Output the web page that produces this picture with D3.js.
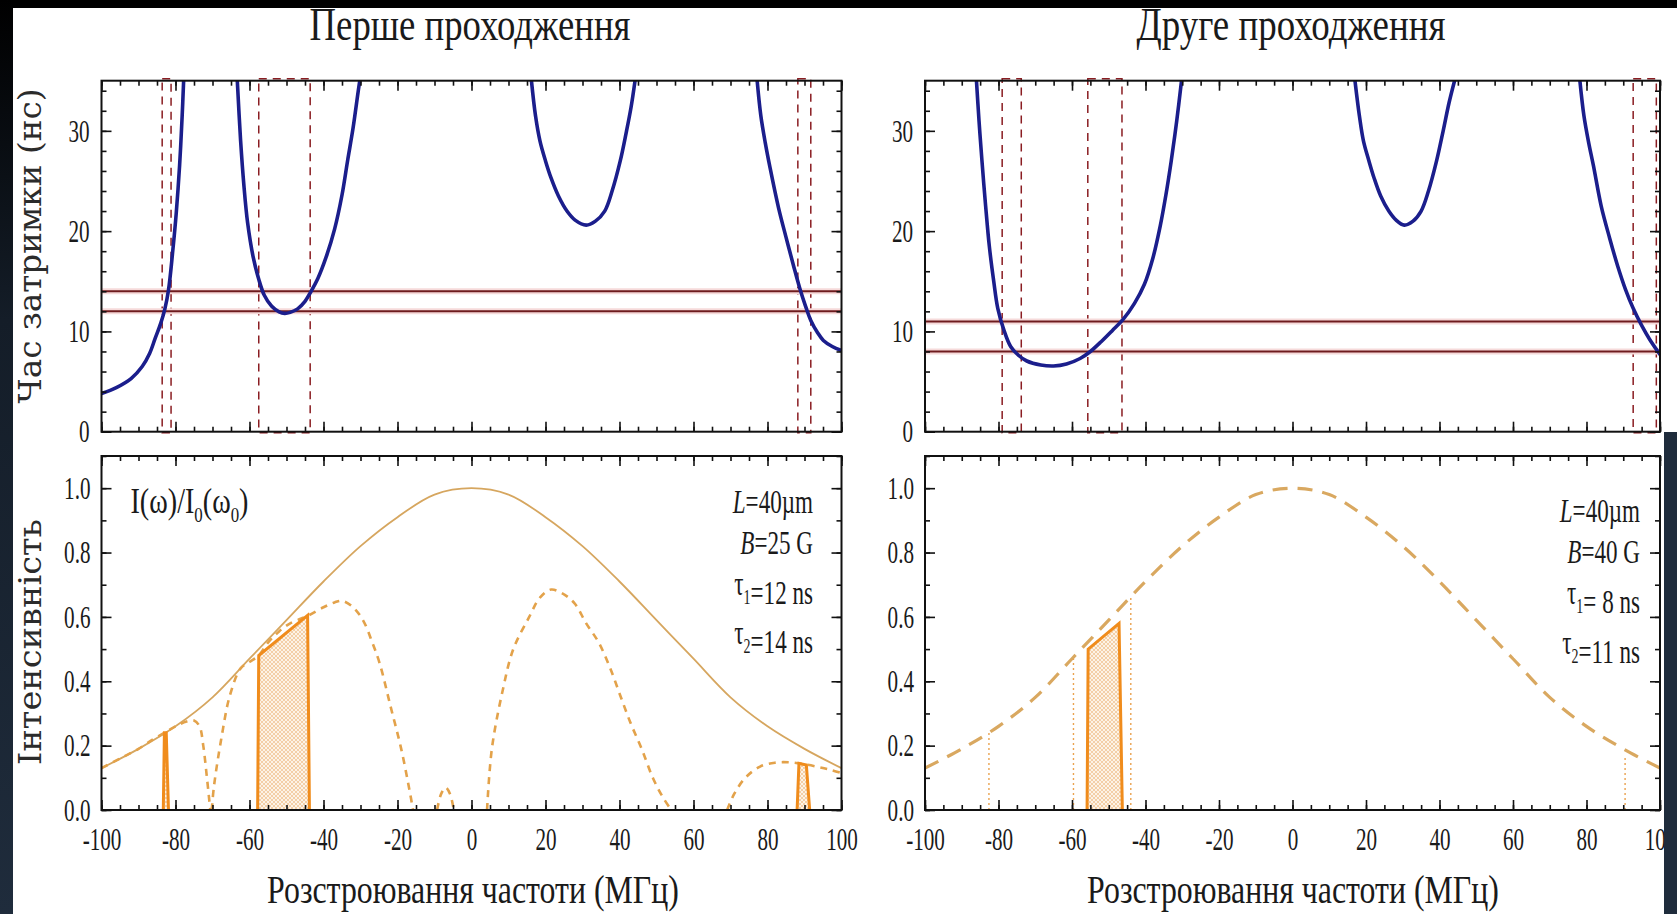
<!DOCTYPE html>
<html>
<head>
<meta charset="utf-8">
<script src="https://cdn.jsdelivr.net/npm/d3@7"></script>
<style>
  html, body { margin: 0; padding: 0; background: #fff; }
  svg { display: block; }
  text { font-family: "Liberation Serif", "Times New Roman", serif; fill: #1a1a1a; white-space: pre; }
</style>
</head>
<body>
<svg id="fig" width="1677" height="914"></svg>
<script>
// ---------------- data ----------------
const passTitles = ["Перше проходження", "Друге проходження"];
const xTitle = "Розстроювання частоти (МГц)";
const yTitles = ["Час затримки (нс)", "Інтенсивність"];

const xMajorTicks = [-100, -80, -60, -40, -20, 0, 20, 40, 60, 80, 100];
const delayTicks = [0, 10, 20, 30];
const intensityTicks = [0.0, 0.2, 0.4, 0.6, 0.8, 1.0];

const cellLength = "40µm";
const fieldB = ["25 G", "40 G"];
const tau1 = [12, 8];   // ns, lower delay threshold
const tau2 = [14, 11];  // ns, upper delay threshold

// group delay (ns) vs detuning (MHz), first pass
const delay1A = [[-100,3.8],[-96,4.4],[-92,5.3],[-89,6.5],[-87,7.8],[-85.5,9.3],[-84,10.8],[-82.9,12.2],[-81.9,14.1],[-80.8,17.8],[-79.8,21.8],[-78.9,26.5],[-78.2,31.5],[-77.8,35]];
const delay1B = [[-63.3,35],[-62.4,29],[-61.5,24.5],[-60.5,20.8],[-59,17.4],[-57.5,15.2],[-56,13.6],[-54,12.5],[-52,11.95],[-50.5,11.8],[-49,11.9],[-47,12.25],[-45,13.0],[-43.5,13.9],[-41.5,15.3],[-39.3,17.4],[-37,20.2],[-35,23.6],[-33.5,27],[-32,30.3],[-30.6,34],[-30.2,35]];
const delay1C = [[16.2,35],[17.3,31.5],[18.5,29],[20,27],[21.5,25.3],[23.5,23.5],[25.8,22.0],[28,21.1],[31,20.6],[33.5,21.0],[36,22.0],[38,24.0],[40.2,27],[41.8,29.8],[43.1,32.3],[44.2,35]];
const delay1D = [[77.2,35],[78.2,31.5],[79.4,28.8],[80.7,26.3],[83,22.3],[85,19.4],[87,16.6],[88.8,14.2],[90.3,12.5],[91.7,11.1],[93.5,9.9],[95.1,9.1],[97.5,8.5],[100,8.1]];

// group delay (ns) vs detuning (MHz), second pass
const delay2A = [[-86,35],[-85.3,31],[-84.5,27],[-83.5,22.5],[-82.5,18.5],[-81.3,15],[-80.2,12.3],[-78.5,10.1],[-76.7,8.5],[-74.5,7.6],[-72.3,7.05],[-68.5,6.65],[-65,6.55],[-61.5,6.75],[-57.8,7.3],[-55,8.0],[-52,9.0],[-49,10.1],[-46.1,11.2],[-43,12.8],[-40.3,14.7],[-38,17.3],[-36,20.5],[-34.5,23.5],[-33,27],[-31.5,31],[-30.2,35]];
const delay2B = [[17,35],[18.2,31.5],[19.3,29],[20.8,27],[22.2,25.3],[24,23.5],[26.2,22.0],[28.2,21.1],[30.4,20.6],[32.8,21.0],[35,22.0],[37,24.0],[39.2,27],[41,30],[42.6,32.8],[44.1,35]];
const delay2C = [[78.2,35],[79.3,31.5],[80.6,28.8],[81.9,26.5],[84,22.5],[86.3,19.3],[88.5,16.5],[90.6,14.2],[92.7,12.3],[95,10.6],[97.2,9.2],[100,7.7]];

// detuning windows (MHz) where the delay lies between tau1 and tau2
const windows1 = [[-83.6, -81.2], [-57.5, -43.6], [88.2, 91.7]];
const windows2 = [[-79, -73.8], [-55.7, -46.4], [92.7, 99]];

// input spectrum I0 (normalised), detuning -100..100 step 10
const envelopeX = [-100,-90,-80,-70,-60,-50,-40,-30,-20,-10,0,10,20,30,40,50,60,70,80,90,100];
const envelopeY = [0.13,0.19,0.26,0.35,0.47,0.59,0.71,0.82,0.91,0.98,1.0,0.98,0.91,0.82,0.71,0.59,0.47,0.35,0.26,0.19,0.13];

// transmitted spectrum after first pass, lobe by lobe
const lobe1 = [[-100,0.13],[-95,0.16],[-90,0.19],[-86,0.22],[-83,0.24],[-80,0.26],[-77,0.275],[-75,0.278],[-73.5,0.26],[-72.5,0.2],[-71.5,0.1],[-70.6,0]];
const lobe2 = [[-70.2,0],[-69.6,0.074],[-67.6,0.223],[-65.3,0.356],[-62.4,0.44],[-60,0.46],[-57.5,0.48],[-55,0.52],[-52,0.555],[-49,0.58],[-46,0.595],[-44,0.605],[-40,0.63],[-37,0.645],[-35,0.65],[-32,0.63],[-29.2,0.587],[-26.8,0.52],[-24.8,0.455],[-21.9,0.323],[-19,0.19],[-16.7,0.058],[-15.8,0]];
const lobe3 = [[-9.3,0],[-8.2,0.05],[-7,0.07],[-5.8,0.05],[-4.8,0]];
const lobe4 = [[4.2,0],[5.5,0.19],[8.4,0.37],[11.3,0.5],[15.6,0.6],[18.5,0.66],[21.5,0.685],[25,0.67],[28,0.64],[31,0.58],[34.4,0.52],[37.5,0.44],[40.2,0.356],[43,0.27],[46,0.19],[49,0.1],[51.7,0.04],[54,0]];
const lobe5 = [[69.1,0],[71,0.05],[74,0.1],[78,0.135],[82,0.147],[86,0.148],[90,0.142],[94,0.133],[97,0.125],[100,0.115]];

// selected (delayed) parts of the spectrum
const band1 = [
  [[-83.3,0],[-83.0,0.24],[-82.5,0.24],[-81.9,0]],
  [[-57.8,0],[-57.5,0.48],[-44.3,0.605],[-43.8,0]],
  [[88.0,0],[88.5,0.145],[90.5,0.14],[91.4,0]]
];
const band2 = [
  [[-55.9,0],[-55.6,0.5],[-47.2,0.58],[-46.3,0]]
];
// dotted guides in the second-pass spectrum: [detuning, height]
const guides2 = [[-82.6,0.24],[-59.6,0.47],[-44,0.66],[90.5,0.17]];

// ---------------- layout ----------------
const cols = [{x0: 101.5, x1: 841.5, title: 470, xt: 473}, {x0: 925, x1: 1660, title: 1291, xt: 1293}];
const rowDelay = {top: 80.7, bottom: 431.7};
const rowInt = {top: 456, bottom: 810};

const svg = d3.select("#fig");
const defs = svg.append("defs");

const grad = defs.append("linearGradient").attr("id", "edge").attr("x1", 0).attr("y1", 0).attr("x2", 0).attr("y2", 1);
grad.append("stop").attr("offset", "0").attr("stop-color", "#000");
grad.append("stop").attr("offset", "0.35").attr("stop-color", "#141d28");
grad.append("stop").attr("offset", "1").attr("stop-color", "#1f2c3c");

const pat = defs.append("pattern").attr("id", "hatch").attr("width", 4).attr("height", 4)
  .attr("patternUnits", "userSpaceOnUse");
pat.append("rect").attr("width", 4).attr("height", 4).attr("fill", "#fdf3e6");
pat.append("path").attr("d", "M0,0 L4,4 M4,0 L0,4").attr("stroke", "#efc08c").attr("stroke-width", 0.7);

svg.append("rect").attr("width", 1677).attr("height", 914).attr("fill", "#fff");

// text helper: horizontally scaled serif text
function label(parent, o) {
  const g = parent.append("g")
    .attr("transform", `translate(${o.x},${o.y})` + (o.rotate ? ` rotate(${o.rotate})` : ""));
  const t = g.append("text")
    .attr("text-anchor", o.anchor || "middle")
    .style("font-size", o.size + "px");
  if (o.family) t.style("font-family", o.family);
  if (o.weight) t.style("font-weight", o.weight);
  if (o.fill) t.style("fill", o.fill);
  if (o.build) o.build(t); else t.text(o.text);
  let s = o.scale || 1;
  if (o.width) s = o.width / t.node().getComputedTextLength();
  t.attr("transform", `scale(${s},1)`);
  return t;
}
function sub(t, main, s, size) {
  t.append("tspan").text(main);
  t.append("tspan").attr("dy", 9).style("font-size", size + "px").text(s);
  t.append("tspan").attr("dy", -9).text("");
}

const tickScale = 0.66;
const tickSize = 32;

function fixTickText(g, s) {
  g.selectAll(".tick text").each(function () {
    const t = d3.select(this);
    const x = +t.attr("x") || 0;
    t.attr("x", 0).attr("transform", `translate(${x},0) scale(${s},1)`)
      .style("font-size", tickSize + "px").style("font-family", '"Liberation Serif", serif').attr("fill", "#1a1a1a");
  });
}

const plainNumber = d => String(d);          // hyphen-minus, as in the original axis labels
const oneDecimal = d => d.toFixed(1);

function frame(g, x, y, yMajor, yMinor, yFmt, xLabels, yPad) {
  const [x0, x1] = x.range();
  const [yb, yt] = y.range();
  const minorX = d3.range(-100, 100.01, 5);
  const ab = g.append("g").attr("transform", `translate(0,${yb})`)
    .call(d3.axisBottom(x).tickValues(minorX).tickSize(-5).tickFormat(""));
  const abM = g.append("g").attr("transform", `translate(0,${yb})`)
    .call(d3.axisBottom(x).tickValues(xMajorTicks).tickSize(-10).tickPadding(17)
      .tickFormat(xLabels ? plainNumber : ""));
  const at = g.append("g").attr("transform", `translate(0,${yt})`)
    .call(d3.axisTop(x).tickValues(minorX).tickSize(-5).tickFormat(""));
  const atM = g.append("g").attr("transform", `translate(0,${yt})`)
    .call(d3.axisTop(x).tickValues(xMajorTicks).tickSize(-10).tickFormat(""));
  const al = g.append("g").attr("transform", `translate(${x0},0)`)
    .call(d3.axisLeft(y).tickValues(yMinor).tickSize(-5).tickFormat(""));
  const alM = g.append("g").attr("transform", `translate(${x0},0)`)
    .call(d3.axisLeft(y).tickValues(yMajor).tickSize(-10).tickPadding(yPad).tickFormat(yFmt));
  const ar = g.append("g").attr("transform", `translate(${x1},0)`)
    .call(d3.axisRight(y).tickValues(yMinor).tickSize(-5).tickFormat(""));
  const arM = g.append("g").attr("transform", `translate(${x1},0)`)
    .call(d3.axisRight(y).tickValues(yMajor).tickSize(-10).tickFormat(""));
  [ab, abM, at, atM, al, alM, ar, arM].forEach(a => {
    a.select(".domain").remove();
    a.selectAll(".tick line").attr("stroke", "#111").attr("stroke-width", 1.6);
  });
  fixTickText(abM, tickScale);
  fixTickText(alM, tickScale);
  g.append("rect").attr("x", x0).attr("y", yt).attr("width", x1 - x0).attr("height", yb - yt)
    .attr("fill", "none").attr("stroke", "#111").attr("stroke-width", 2);
}

const delayCurves = [[delay1A, delay1B, delay1C, delay1D], [delay2A, delay2B, delay2C]];
const windowsAll = [windows1, windows2];
const smooth = d3.curveCatmullRom.alpha(0.5);

cols.forEach((c, i) => {
  const x = d3.scaleLinear().domain([-100, 100]).range([c.x0, c.x1]);
  const yD = d3.scaleLinear().domain([0, 35]).range([rowDelay.bottom, rowDelay.top]);
  const yI = d3.scaleLinear().domain([0, 1.1]).range([rowInt.bottom, rowInt.top]);

  defs.append("clipPath").attr("id", "clipD" + i).append("rect")
    .attr("x", c.x0).attr("y", rowDelay.top).attr("width", c.x1 - c.x0).attr("height", rowDelay.bottom - rowDelay.top);
  defs.append("clipPath").attr("id", "clipI" + i).append("rect")
    .attr("x", c.x0).attr("y", rowInt.top).attr("width", c.x1 - c.x0).attr("height", rowInt.bottom - rowInt.top);

  // ---------- delay panel ----------
  const gd = svg.append("g");
  windowsAll[i].forEach(w => {
    gd.append("rect")
      .attr("x", x(w[0])).attr("y", yD(35) - 2)
      .attr("width", x(w[1]) - x(w[0])).attr("height", yD(0) - yD(35) + 3)
      .attr("fill", "none").attr("stroke", "#8a1d22").attr("stroke-width", 1.5)
      .attr("stroke-dasharray", "8,6");
  });
  [tau1[i], tau2[i]].forEach(v => {
    gd.append("line").attr("x1", x(-100)).attr("x2", x(100)).attr("y1", yD(v)).attr("y2", yD(v))
      .attr("stroke", "#f6dada").attr("stroke-width", 6);
    gd.append("line").attr("x1", x(-100)).attr("x2", x(100)).attr("y1", yD(v)).attr("y2", yD(v))
      .attr("stroke", "#6e1b1e").attr("stroke-width", 2);
  });
  const lineD = d3.line().x(d => x(d[0])).y(d => yD(d[1])).curve(smooth);
  const gc = gd.append("g").attr("clip-path", `url(#clipD${i})`);
  delayCurves[i].forEach(seg => {
    gc.append("path").attr("d", lineD(seg)).attr("fill", "none")
      .attr("stroke", "#1b1e8c").attr("stroke-width", 3.6).attr("stroke-linecap", "round");
  });
  frame(gd, x, yD, delayTicks, d3.range(0, 35.01, 2), plainNumber, false, 12);

  // ---------- intensity panel ----------
  const gi = svg.append("g");
  const gic = gi.append("g").attr("clip-path", `url(#clipI${i})`);
  const lineI = d3.line().x(d => x(d[0])).y(d => yI(d[1])).curve(smooth);
  const envPts = envelopeX.map((v, k) => [v, envelopeY[k]]);
  const bands = i === 0 ? band1 : band2;
  const poly = d3.line().x(d => x(d[0])).y(d => yI(d[1]));
  bands.forEach(b => {
    gic.append("path").attr("d", poly(b) + "Z").attr("fill", "url(#hatch)");
  });
  if (i === 0) {
    gic.append("path").attr("d", lineI(envPts)).attr("fill", "none")
      .attr("stroke", "#d6a65f").attr("stroke-width", 1.8);
    [lobe1, lobe2, lobe3, lobe4, lobe5].forEach(l => {
      gic.append("path").attr("d", lineI(l)).attr("fill", "none")
        .attr("stroke", "#e3a24a").attr("stroke-width", 2.6).attr("stroke-dasharray", "7,6");
    });
  } else {
    gic.append("path").attr("d", lineI(envPts)).attr("fill", "none")
      .attr("stroke", "#d9a860").attr("stroke-width", 3.2).attr("stroke-dasharray", "15,10");
    guides2.forEach(gd2 => {
      gic.append("line").attr("x1", x(gd2[0])).attr("x2", x(gd2[0]))
        .attr("y1", yI(0)).attr("y2", yI(gd2[1]))
        .attr("stroke", "#eaa24e").attr("stroke-width", 1.4).attr("stroke-dasharray", "2,3");
    });
  }
  bands.forEach(b => {
    gic.append("path").attr("d", poly(b)).attr("fill", "none")
      .attr("stroke", "#f08c1c").attr("stroke-width", 3).attr("stroke-linejoin", "miter");
  });
  frame(gi, x, yI, intensityTicks, d3.range(0, 1.101, 0.1), oneDecimal, true, 11);

  // ---------- texts ----------
  label(svg, {x: c.title, y: 40, text: passTitles[i], size: 46, width: i === 0 ? 321 : 309});
  label(svg, {x: c.xt, y: 903, text: xTitle, size: 39, width: 412});

  const ax = i === 0 ? 813 : 1640;
  const base = i === 0 ? [513, 554, 595, 644] : [522, 563, 604, 654];
  const asz = 33, asc = 0.7;
  label(svg, {x: ax, y: base[0], size: asz, scale: asc, anchor: "end", build: t => {
    t.append("tspan").style("font-style", "italic").text("L");
    t.append("tspan").text("=" + cellLength);
  }});
  label(svg, {x: ax, y: base[1], size: asz, scale: asc, anchor: "end", build: t => {
    t.append("tspan").style("font-style", "italic").text("B");
    t.append("tspan").text("=" + fieldB[i]);
  }});
  label(svg, {x: ax, y: base[2], size: asz, scale: asc, anchor: "end", build: t => {
    sub(t, "τ", "1", 20);
    t.append("tspan").text("=" + String(tau1[i]).padStart(2, " ") + " ns");
  }});
  label(svg, {x: ax, y: base[3], size: asz, scale: asc, anchor: "end", build: t => {
    sub(t, "τ", "2", 20);
    t.append("tspan").text("=" + String(tau2[i]).padStart(2, " ") + " ns");
  }});
  if (i === 0) {
    label(svg, {x: 130.5, y: 513, size: 35, width: 118, anchor: "start", build: t => {
      t.append("tspan").text("I(ω)/I");
      t.append("tspan").attr("dy", 9).style("font-size", "21px").text("0");
      t.append("tspan").attr("dy", -9).text("(ω");
      t.append("tspan").attr("dy", 9).style("font-size", "21px").text("0");
      t.append("tspan").attr("dy", -9).text(")");
    }});
  }
});

// vertical axis titles
label(svg, {x: 41, y: 246, rotate: -90, text: yTitles[0], size: 32, width: 315,
  family: '"DejaVu Serif", serif', fill: "#2b2b2b"});
label(svg, {x: 41, y: 642, rotate: -90, text: yTitles[1], size: 32, width: 246,
  family: '"DejaVu Serif", serif', fill: "#2b2b2b"});

// dark page edges
svg.append("rect").attr("x", 0).attr("y", 0).attr("width", 1677).attr("height", 8).attr("fill", "#000");
svg.append("rect").attr("x", 0).attr("y", 0).attr("width", 13).attr("height", 914).attr("fill", "url(#edge)");
svg.append("rect").attr("x", 1664).attr("y", 432).attr("width", 13).attr("height", 482).attr("fill", "#1f2c3c");
</script>
</body>
</html>
